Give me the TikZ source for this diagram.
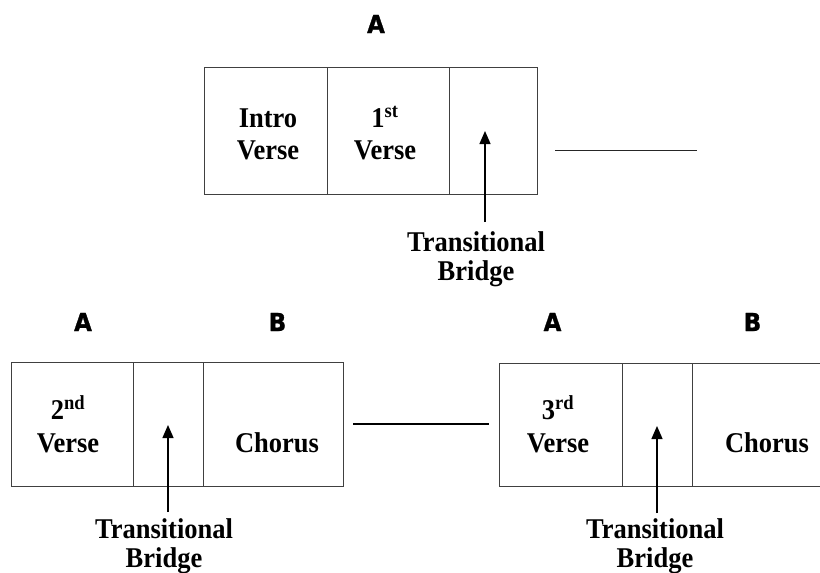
\documentclass[tikz,border=0pt]{standalone}
\usepackage{fontspec}
\setmainfont{Liberation Serif}
\newfontfamily\letterfont[BoldFeatures={FakeBold=1.2}]{DejaVu Sans}
\usetikzlibrary{arrows.meta}
\newcommand\tallbox[1]{\scalebox{1}[1.08]{#1}}
\newcommand\twolines[2]{\tallbox{\begin{tabular}[t]{@{}c@{}}#1\\#2\end{tabular}}}
\begin{document}
\begin{tikzpicture}[x=1pt,y=-1pt,
  cell/.style={draw=black!75, line width=0.8pt, inner sep=0pt, anchor=north west},
  lbl/.style={font=\fontsize{26.5}{30}\selectfont\bfseries, inner sep=0pt, anchor=base},
  lblb/.style={font=\fontsize{26.5}{27.5}\selectfont\bfseries, inner sep=0pt, anchor=base},
  part/.style={font=\letterfont\bfseries\fontsize{23}{26}\selectfont, inner sep=0pt},
  pointer/.style={line width=1.3pt, -{Triangle[width=11pt,length=13pt]}},
  thinlink/.style={line width=1pt, draw=black!85},
  thicklink/.style={line width=2.2pt}]
\path[use as bounding box] (0,0) rectangle (820,573);
\clip (0,0) rectangle (820,573);
\fill[white] (0,0) rectangle (820,573);

% ---------- top group ----------
\node[part] (tA) at (376,24) {\tallbox{A}};
\node[cell, minimum width=123pt, minimum height=127pt] (t1) at (204,67) {};
\node[cell, minimum width=122pt, minimum height=127pt] (t2) at (327,67) {};
\node[cell, minimum width=88pt, minimum height=127pt] (t3) at (449,67) {};
\node[lbl] (intro) at (268,127) {\twolines{Intro}{Verse}};
\node[lbl] (first) at (385,127) {\twolines{1\textsuperscript{st}}{Verse}};
\node[lblb] (tb1) at (476,251) {\twolines{Transitional}{Bridge}};
\coordinate (t3tip) at (485,131);
\coordinate (t3base) at (485,222);
\draw[pointer] (t3base) -- (t3tip);
\coordinate (tl1) at (555,150);
\coordinate (tl2) at (697,150);
\draw[thinlink] (tl1) -- (tl2);

% ---------- bottom left group ----------
\node[part] (lA) at (83,322) {\tallbox{A}};
\node[part] (lB) at (277.5,322) {\tallbox{B}};
\node[cell, minimum width=122pt, minimum height=124pt] (l1) at (11,362) {};
\node[cell, minimum width=70pt, minimum height=124pt] (l2) at (133,362) {};
\node[cell, minimum width=140pt, minimum height=124pt] (l3) at (203,362) {};
\node[lbl] (second) at (68,419) {\tallbox{\begin{tabular}[t]{@{}c@{}}2\textsuperscript{nd}\\[1pt]Verse\end{tabular}}};
\node[lbl] (chorus1) at (277,452) {\tallbox{Chorus}};
\node[lblb] (tb2) at (164,538) {\twolines{Transitional}{Bridge}};
\coordinate (l2tip) at (168,425);
\coordinate (l2base) at (168,512);
\draw[pointer] (l2base) -- (l2tip);

% middle connector
\coordinate (ml1) at (353,424);
\coordinate (ml2) at (489,424);
\draw[thicklink] (ml1) -- (ml2);

% ---------- bottom right group ----------
\node[part] (rA) at (552.5,322) {\tallbox{A}};
\node[part] (rB) at (752.5,322) {\tallbox{B}};
\node[cell, minimum width=123pt, minimum height=123pt] (r1) at (499,363) {};
\node[cell, minimum width=70pt, minimum height=123pt] (r2) at (622,363) {};
\node[cell, minimum width=150pt, minimum height=123pt] (r3) at (692,363) {};
\node[lbl] (third) at (558,419) {\tallbox{\begin{tabular}[t]{@{}c@{}}3\textsuperscript{rd}\\[1pt]Verse\end{tabular}}};
\node[lbl] (chorus2) at (767,452) {\tallbox{Chorus}};
\node[lblb] (tb3) at (655,538) {\twolines{Transitional}{Bridge}};
\coordinate (r2tip) at (657,426);
\coordinate (r2base) at (657,513);
\draw[pointer] (r2base) -- (r2tip);
\end{tikzpicture}
\end{document}
